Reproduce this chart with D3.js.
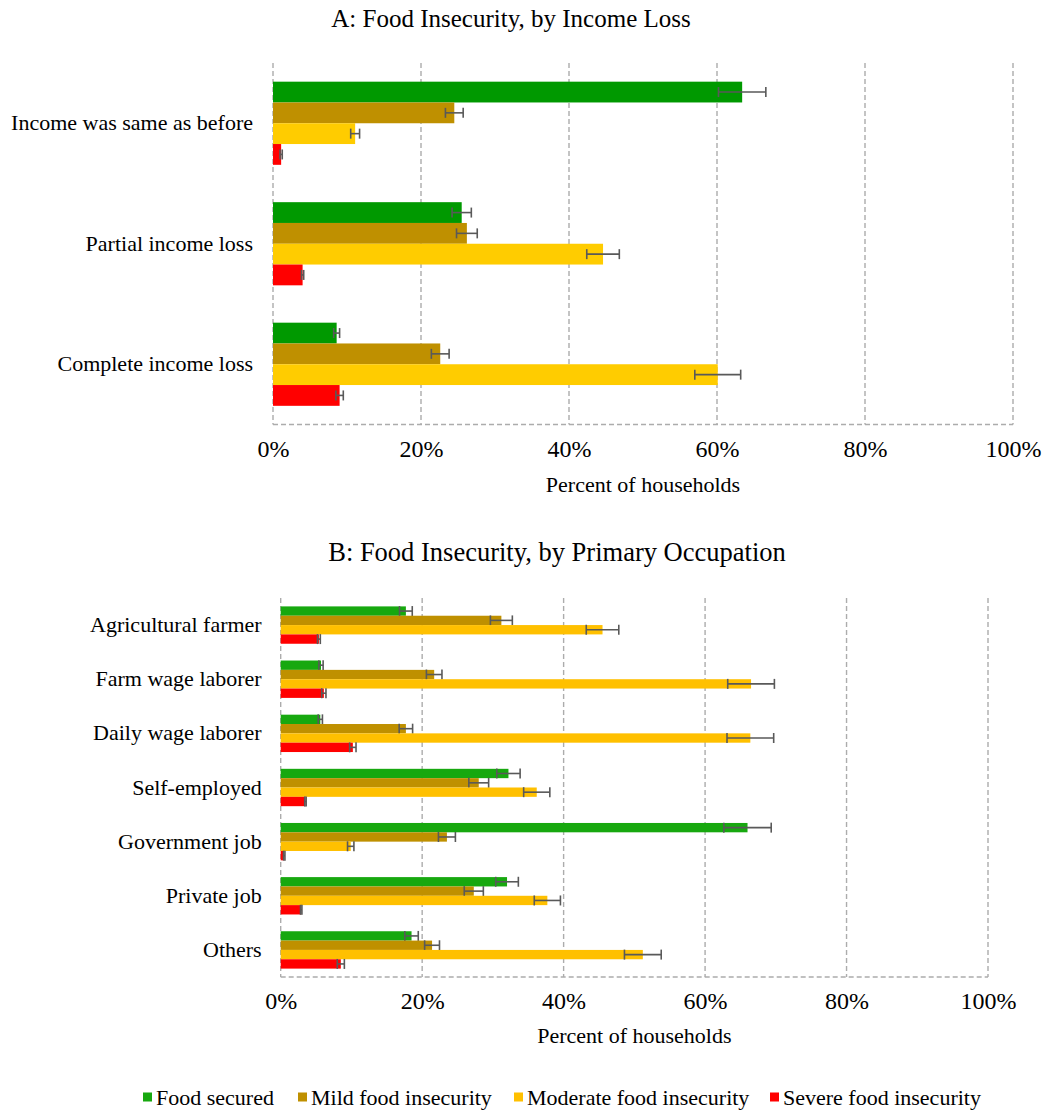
<!DOCTYPE html>
<html>
<head>
<meta charset="utf-8">
<script src="https://cdn.jsdelivr.net/npm/d3@7"></script>
<style>
  html, body { margin: 0; padding: 0; background: #fff; }
  svg text { font-family: 'Liberation Serif', 'DejaVu Serif', serif; }
</style>
</head>
<body>
<svg id="chart" width="1046" height="1113"></svg>
<script>
// Series (shared by both panels and the legend)
const seriesNames = ["Food secured", "Mild food insecurity", "Moderate food insecurity", "Severe food insecurity"];
const tickValues = [0, 20, 40, 60, 80, 100];

// Panel A: food insecurity by income loss (percent of households)
const incomeGroups = ["Income was same as before", "Partial income loss", "Complete income loss"];
const incomeSecured  = [63.4, 25.5, 8.6];
const incomeMild     = [24.5, 26.2, 22.6];
const incomeModerate = [11.1, 44.6, 60.1];
const incomeSevere   = [1.1, 4.0, 9.0];
// half-widths of the confidence intervals
const incomeSecuredErr  = [3.2, 1.3, 0.4];
const incomeMildErr     = [1.2, 1.4, 1.2];
const incomeModerateErr = [0.6, 2.2, 3.1];
const incomeSevereErr   = [0.15, 0.15, 0.5];

// Panel B: food insecurity by primary occupation
const occupationGroups = ["Agricultural farmer", "Farm wage laborer", "Daily wage laborer", "Self-employed",
                          "Government job", "Private job", "Others"];
const occSecured  = [17.7, 5.7, 5.6, 32.2, 66.0, 32.0, 18.5];
const occMild     = [31.2, 21.7, 17.7, 28.0, 23.5, 27.3, 21.4];
const occModerate = [45.5, 66.5, 66.4, 36.2, 9.9, 37.7, 51.2];
const occSevere   = [5.4, 6.1, 10.2, 3.5, 0.5, 2.9, 8.5];
const occSecuredErr  = [0.9, 0.3, 0.3, 1.65, 3.35, 1.6, 0.95];
const occMildErr     = [1.55, 1.1, 0.95, 1.4, 1.2, 1.35, 1.05];
const occModerateErr = [2.3, 3.3, 3.3, 1.85, 0.45, 1.85, 2.6];
const occSevereErr   = [0.2, 0.3, 0.45, 0.1, 0.1, 0.1, 0.5];

const colorsA = ["#009900", "#bf9000", "#ffcc00", "#ff0000"];
const colorsB = ["#17a80f", "#bf9000", "#ffc000", "#ff0000"];

const FONT = "'Liberation Serif', 'DejaVu Serif', serif";
const svg = d3.select("#chart");
const gridColor = "#acacac";
const errColor = "#595959";

function drawPanel(cfg) {
  const g = svg.append("g");
  const x = d3.scaleLinear().domain([0, 100]).range([cfg.x0, cfg.x1]);
  const y = d3.scaleBand().domain(cfg.groups).range([cfg.y0, cfg.y1])
    .paddingInner(0.31).paddingOuter(0.155);
  const sub = d3.scaleBand().domain(d3.range(seriesNames.length)).range([0, y.bandwidth()]);

  // dashed gridlines at each tick, plus the dashed baseline along the bottom
  g.selectAll("line.grid").data(tickValues).join("line")
    .attr("x1", d => x(d)).attr("x2", d => x(d))
    .attr("y1", cfg.y0).attr("y2", cfg.y1)
    .attr("stroke", gridColor).attr("stroke-width", 1.4).attr("stroke-dasharray", "5,3");
  g.append("line")
    .attr("x1", x(0)).attr("x2", x(100)).attr("y1", cfg.y1).attr("y2", cfg.y1)
    .attr("stroke", gridColor).attr("stroke-width", 1.4).attr("stroke-dasharray", "5,3");

  // bars and error bars, one series at a time
  cfg.values.forEach((vals, si) => {
    const rows = cfg.groups.map((grp, i) => ({ grp, v: vals[i], e: cfg.errors[si][i] }));
    g.append("g").selectAll("rect").data(rows).join("rect")
      .attr("x", x(0))
      .attr("y", d => y(d.grp) + sub(si))
      .attr("width", d => x(d.v) - x(0))
      .attr("height", sub.bandwidth())
      .attr("fill", cfg.colors[si]);

    const eb = g.append("g").attr("stroke", errColor).attr("stroke-width", 1.6)
      .selectAll("g").data(rows).join("g")
      .attr("transform", d => `translate(0,${y(d.grp) + sub(si) + sub.bandwidth() / 2})`);
    eb.append("line")
      .attr("x1", d => x(d.v - d.e)).attr("x2", d => x(d.v + d.e));
    eb.append("line")
      .attr("x1", d => x(d.v - d.e)).attr("x2", d => x(d.v - d.e)).attr("y1", -5).attr("y2", 5);
    eb.append("line")
      .attr("x1", d => x(d.v + d.e)).attr("x2", d => x(d.v + d.e)).attr("y1", -5).attr("y2", 5);
  });

  // category labels
  g.selectAll("text.cat").data(cfg.groups).join("text")
    .attr("x", x(0) - cfg.labelGap)
    .attr("y", d => y(d) + y.bandwidth() / 2)
    .attr("dy", "0.32em")
    .attr("text-anchor", "end")
    .attr("font-family", FONT)
    .attr("font-size", 22)
    .attr("fill", "#000")
    .text(d => d);

  // x-axis tick labels
  const axis = d3.axisBottom(x).tickValues(tickValues).tickSize(0).tickFormat(d => d + "%");
  const ax = g.append("g").attr("transform", `translate(0,${cfg.tickY})`).call(axis)
    .attr("font-family", FONT).attr("font-size", 24);
  ax.select(".domain").remove();
  ax.selectAll("text").attr("fill", "#000").attr("dy", 0).attr("y", 0);

  g.append("text")
    .attr("x", x(50)).attr("y", cfg.axisTitleY)
    .attr("text-anchor", "middle").attr("font-family", FONT).attr("font-size", 22).attr("fill", "#000")
    .text("Percent of households");

  g.append("text")
    .attr("x", cfg.titleX).attr("y", cfg.titleY)
    .attr("text-anchor", "middle").attr("font-family", FONT).attr("font-size", cfg.titleSize).attr("fill", "#000")
    .text(cfg.title);
}

drawPanel({
  title: "A: Food Insecurity, by Income Loss",
  titleX: 511, titleY: 27, titleSize: 25,
  groups: incomeGroups,
  values: [incomeSecured, incomeMild, incomeModerate, incomeSevere],
  errors: [incomeSecuredErr, incomeMildErr, incomeModerateErr, incomeSevereErr],
  colors: colorsA,
  x0: 273, x1: 1013, y0: 63, y1: 424.5,
  labelGap: 20, tickY: 457, axisTitleY: 492
});

drawPanel({
  title: "B: Food Insecurity, by Primary Occupation",
  titleX: 557, titleY: 561, titleSize: 26.5,
  groups: occupationGroups,
  values: [occSecured, occMild, occModerate, occSevere],
  errors: [occSecuredErr, occMildErr, occModerateErr, occSevereErr],
  colors: colorsB,
  x0: 280.7, x1: 988, y0: 598, y1: 977,
  labelGap: 19, tickY: 1009, axisTitleY: 1043
});

// legend
const legendX = [143, 298, 514, 770];
const legend = svg.append("g").selectAll("g").data(seriesNames).join("g")
  .attr("transform", (d, i) => `translate(${legendX[i]},1097)`);
legend.append("rect").attr("x", 0).attr("y", -4.5).attr("width", 9).attr("height", 9)
  .attr("fill", (d, i) => colorsB[i]);
legend.append("text").attr("x", 13).attr("y", 0).attr("dy", "0.35em")
  .attr("font-family", FONT).attr("font-size", 22).attr("fill", "#000").text(d => d);
</script>
</body>
</html>
